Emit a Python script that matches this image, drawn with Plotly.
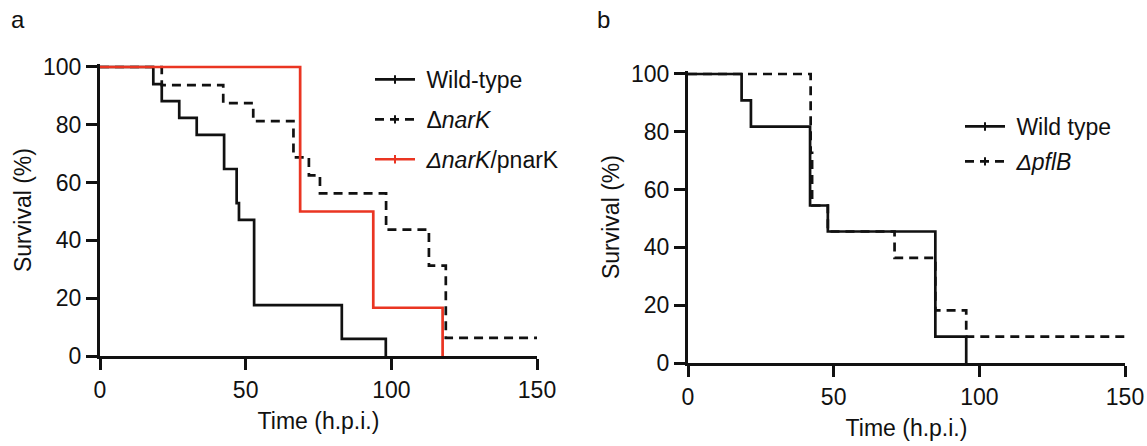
import plotly.graph_objects as go

# ---- Panel a data (Kaplan-Meier steps) ----
wt_a_time = [0, 18.3, 21.2, 27.2, 33.2, 42.6, 46.9, 47.7, 52.9, 83.0, 98.1]
wt_a_surv = [100, 94.1, 88.2, 82.4, 76.5, 64.7, 52.9, 47.1, 17.6, 5.9, 0]

narK_time = [0, 21.2, 42.3, 52.6, 66.4, 71.7, 75.5, 98.2, 112.9, 118.7, 150]
narK_surv = [100, 93.75, 87.5, 81.25, 68.75, 62.5, 56.25, 43.75, 31.25, 6.25, 6.25]

pnarK_time = [0, 68.7, 93.8, 117.6]
pnarK_surv = [100, 50, 16.7, 0]

# ---- Panel b data ----
wt_b_time = [0, 18.4, 21.6, 41.9, 48.0, 84.9, 95.5]
wt_b_surv = [100, 90.9, 81.8, 54.5, 45.5, 9.1, 0]

pflB_time = [0, 42.1, 42.6, 48.0, 70.9, 84.9, 95.5, 150]
pflB_surv = [100, 72.7, 54.5, 45.5, 36.4, 18.2, 9.1, 9.1]

x_ticks = [0, 50, 100, 150]
y_ticks = [0, 20, 40, 60, 80, 100]

BLACK = "#111111"
RED = "#EA3522"
DASH = "9px,6px"
FONT = "Liberation Sans, Arial, sans-serif"
W, H = 1147, 446
NB = "\u00a0"

fig = go.Figure()

def add_curve(t, s, color, dash, xa, ya, name, legend):
    fig.add_trace(go.Scatter(x=t, y=s, mode="lines", line=dict(color=color, width=2.7, dash=dash, shape="hv"),
                             xaxis=xa, yaxis=ya, showlegend=False, hoverinfo="skip"))
    # legend entry (with Prism-style censor tick)
    fig.add_trace(go.Scatter(x=[None], y=[None], mode="lines+markers", name=NB + name,
                             line=dict(color=color, width=2.7, dash=dash),
                             marker=dict(symbol="line-ns", size=6, line=dict(color=color, width=2)),
                             xaxis=xa, yaxis=ya, legend=legend, legendgroup=name))

add_curve(wt_a_time, wt_a_surv, BLACK, "solid", "x", "y", "Wild-type", "legend")
add_curve(narK_time, narK_surv, BLACK, DASH, "x", "y", "\u0394<i>narK</i>", "legend")
add_curve(pnarK_time, pnarK_surv, RED, "solid", "x", "y", "<i>\u0394narK</i>/pnarK", "legend")

add_curve(wt_b_time, wt_b_surv, BLACK, "solid", "x2", "y2", "Wild type", "legend2")
add_curve(pflB_time, pflB_surv, BLACK, DASH, "x2", "y2", "<i>\u0394pflB</i>", "legend2")

def px_x(p):
    return p / W

def px_y(p):
    return (H - p) / H

axis_common = dict(showline=True, linewidth=3, linecolor=BLACK, ticks="outside", ticklen=11,
                   tickwidth=3, tickcolor=BLACK, showgrid=False, zeroline=False, automargin=False,
                   tickfont=dict(family=FONT, size=23, color=BLACK))

TITLE_FONT = dict(family=FONT, size=23, color=BLACK)

fig.update_layout(
    width=W, height=H,
    margin=dict(l=0, r=0, t=0, b=0, autoexpand=False),
    paper_bgcolor="white", plot_bgcolor="white",
    font=dict(family=FONT, color=BLACK),
    xaxis=dict(domain=[px_x(100), px_x(537)], range=[0, 150], tickvals=x_ticks, anchor="y",
               title=dict(text="Time (h.p.i.)", font=TITLE_FONT, standoff=12), **axis_common),
    yaxis=dict(domain=[px_y(356), px_y(64.1)], range=[0, 101], tickvals=y_ticks, anchor="x",
               title=dict(text="Survival (%)", font=TITLE_FONT, standoff=5), **axis_common),
    xaxis2=dict(domain=[px_x(688), px_x(1125)], range=[0, 150], tickvals=x_ticks, anchor="y2",
                title=dict(text="Time (h.p.i.)", font=TITLE_FONT, standoff=12), **axis_common),
    yaxis2=dict(domain=[px_y(363), px_y(71.1)], range=[0, 101], tickvals=y_ticks, anchor="x2",
                title=dict(text="Survival (%)", font=TITLE_FONT, standoff=5), **axis_common),
    legend=dict(x=px_x(370), y=px_y(58), xanchor="left", yanchor="top", bgcolor="rgba(0,0,0,0)",
                font=dict(family=FONT, size=23, color=BLACK), tracegroupgap=7, traceorder="grouped",
                itemwidth=40),
    legend2=dict(x=px_x(960), y=px_y(105), xanchor="left", yanchor="top", bgcolor="rgba(0,0,0,0)",
                 font=dict(family=FONT, size=23, color=BLACK), tracegroupgap=2, traceorder="grouped",
                 itemwidth=40),
    annotations=[
        dict(text="a", x=px_x(18), y=px_y(19), xref="paper", yref="paper", showarrow=False,
             xanchor="center", yanchor="middle", font=dict(family=FONT, size=24, color=BLACK)),
        dict(text="b", x=px_x(603), y=px_y(19), xref="paper", yref="paper", showarrow=False,
             xanchor="center", yanchor="middle", font=dict(family=FONT, size=24, color=BLACK)),
    ],
)

fig.write_html("out.html", config={"displayModeBar": False},
               post_script="document.body.style.margin='0px';")
